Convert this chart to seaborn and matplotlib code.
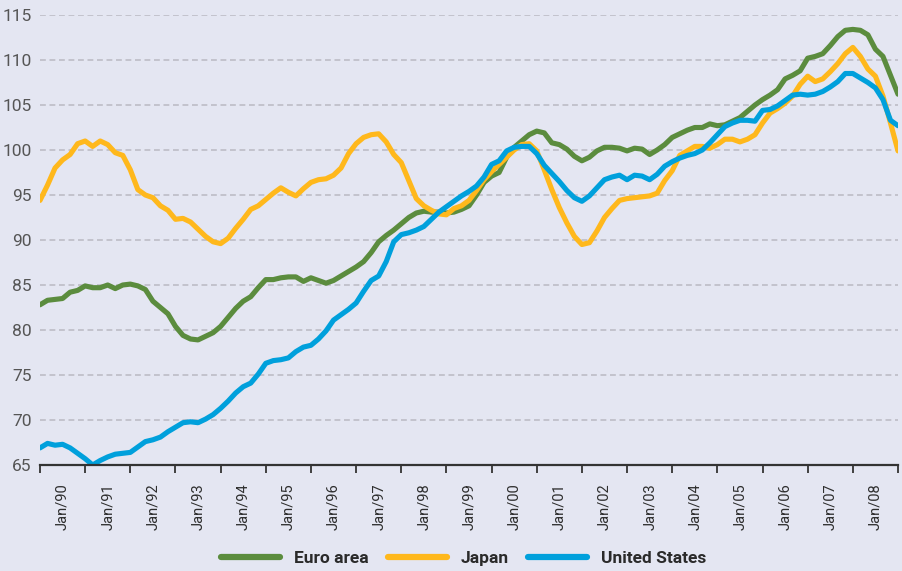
import matplotlib
matplotlib.use("Agg")
import matplotlib.pyplot as plt
import numpy as np
import pandas as pd
import seaborn as sns

# bi-monthly readings, Jan/90 .. Jan/09 (6 per year + final point)
dates = pd.date_range("1990-01-01", "2009-01-01", freq="2MS")

euro_area = [
    82.8, 83.3, 83.4, 83.5, 84.2, 84.4,   # 1990
    84.9, 84.7, 84.7, 85.0, 84.6, 85.0,   # 1991
    85.1, 84.9, 84.5, 83.2, 82.5, 81.8,   # 1992
    80.4, 79.4, 79.0, 78.9, 79.3, 79.7,   # 1993
    80.4, 81.4, 82.4, 83.2, 83.7, 84.7,   # 1994
    85.6, 85.6, 85.8, 85.9, 85.9, 85.4,   # 1995
    85.8, 85.5, 85.2, 85.5, 86.0, 86.5,   # 1996
    87.0, 87.6, 88.6, 89.8, 90.5, 91.1,   # 1997
    91.8, 92.5, 93.0, 93.2, 93.1, 93.1,   # 1998
    93.0, 93.1, 93.4, 93.8, 95.0, 96.4,   # 1999
    97.1, 97.5, 99.2, 100.3, 101.0, 101.7,  # 2000
    102.1, 101.9, 100.8, 100.6, 100.1, 99.3,  # 2001
    98.8, 99.2, 99.9, 100.3, 100.3, 100.2,  # 2002
    99.9, 100.2, 100.1, 99.5, 100.0, 100.6,  # 2003
    101.4, 101.8, 102.2, 102.5, 102.5, 102.9,  # 2004
    102.7, 102.8, 103.2, 103.6, 104.3, 105.0,  # 2005
    105.6, 106.1, 106.7, 107.9, 108.3, 108.8,  # 2006
    110.2, 110.4, 110.7, 111.6, 112.6, 113.3,  # 2007
    113.4, 113.3, 112.8, 111.2, 110.4, 108.3,  # 2008
    106.2,
]

japan = [
    94.4, 96.1, 98.0, 98.9, 99.5, 100.7,
    101.0, 100.4, 101.0, 100.6, 99.7, 99.4,
    97.8, 95.6, 95.0, 94.7, 93.8, 93.3,
    92.3, 92.4, 92.0, 91.2, 90.4, 89.8,
    89.6, 90.2, 91.3, 92.3, 93.4, 93.8,
    94.5, 95.2, 95.8, 95.3, 94.9, 95.7,
    96.4, 96.7, 96.8, 97.2, 98.0, 99.6,
    100.7, 101.4, 101.7, 101.8, 100.9, 99.5,
    98.6, 96.6, 94.6, 93.8, 93.3, 92.9,
    92.8, 93.5, 93.8, 94.4, 95.5, 96.7,
    97.6, 98.4, 99.2, 100.0, 100.6, 100.7,
    99.9, 97.8, 95.6, 93.6, 91.9, 90.4,
    89.5, 89.7, 91.0, 92.5, 93.5, 94.4,
    94.6, 94.7, 94.8, 94.9, 95.2, 96.6,
    97.7, 99.4, 99.9, 100.4, 100.4, 100.2,
    100.6, 101.2, 101.2, 100.9, 101.2, 101.7,
    103.0, 104.1, 104.6, 105.2, 106.0, 107.3,
    108.2, 107.6, 107.9, 108.7, 109.6, 110.7,
    111.4, 110.4, 109.0, 108.2, 106.0, 103.0,
    99.9,
]

united_states = [
    66.9, 67.4, 67.2, 67.3, 66.9, 66.3,
    65.7, 65.0, 65.5, 65.9, 66.2, 66.3,
    66.4, 67.0, 67.6, 67.8, 68.1, 68.7,
    69.2, 69.7, 69.8, 69.7, 70.1, 70.6,
    71.3, 72.1, 73.0, 73.7, 74.1, 75.1,
    76.3, 76.6, 76.7, 76.9, 77.6, 78.1,
    78.3, 79.0, 79.9, 81.1, 81.7, 82.3,
    83.0, 84.3, 85.5, 86.0, 87.6, 89.8,
    90.6, 90.8, 91.1, 91.5, 92.3, 93.1,
    93.7, 94.3, 94.9, 95.4, 96.0, 97.0,
    98.4, 98.8, 99.9, 100.3, 100.4, 100.4,
    99.6, 98.3, 97.4, 96.5, 95.5, 94.7,
    94.3, 94.9, 95.8, 96.7, 97.0, 97.2,
    96.7, 97.2, 97.1, 96.7, 97.3, 98.2,
    98.7, 99.1, 99.4, 99.6, 100.0, 100.8,
    101.7, 102.6, 103.0, 103.3, 103.3, 103.2,
    104.4, 104.5, 104.9, 105.5, 106.1, 106.2,
    106.1, 106.2, 106.5, 107.0, 107.6, 108.5,
    108.5, 108.0, 107.5, 106.9, 105.6, 103.3,
    102.7,
]

series_names = ["Euro area", "Japan", "United States"]
year_labels = ["Jan/%02d" % (y % 100) for y in range(1990, 2009)]

#-------------------------------------------------
# long table for seaborn
#-------------------------------------------------
month = (dates.year - 1990) * 12 + dates.month - 1
frames = []
for name, vals in zip(series_names, [euro_area, japan, united_states]):
    frames.append(pd.DataFrame({"month": month, "value": vals, "series": name}))
df = pd.concat(frames, ignore_index=True)

colors = {"Euro area": "#5b8c3e", "Japan": "#ffb81c", "United States": "#00a0dc"}
bg = "#e4e6f2"

sns.set_theme(style="white")
plt.rcParams["font.family"] = ["Roboto", "DejaVu Sans"]

fig = plt.figure(figsize=(9.02, 5.71), dpi=100, facecolor=bg)
ax = fig.add_axes([40 / 902, 106 / 571, 858 / 902, 450 / 571])
ax.set_facecolor(bg)

sns.lineplot(data=df, x="month", y="value", hue="series", hue_order=series_names,
             palette=colors, linewidth=3.7, ax=ax)
for ln in ax.get_lines():
    ln.set_solid_capstyle("round")
    ln.set_solid_joinstyle("round")

# axes ranges / grid
ax.set_xlim(0, 228)
ax.set_ylim(65, 115)
ax.set_yticks(np.arange(65, 116, 5))
ax.yaxis.grid(True, color="#bdbdc6", linestyle=(0, (3.5, 2.2)), linewidth=1.2)
ax.xaxis.grid(False)
ax.set_axisbelow(True)

# year boundaries as ticks, labels in the middle of each year
ax.set_xticks(np.arange(0, 229, 12))
ax.set_xticklabels([])
ax.set_xticks(np.arange(6, 228, 12), minor=True)
ax.set_xticklabels(year_labels, minor=True, rotation=90, fontsize=10.5,
                   color="#2e2e2e", va="top", ha="center")
ax.tick_params(axis="x", which="major", length=6, width=1.3, color="#333333",
               direction="out", bottom=True)
ax.tick_params(axis="x", which="minor", length=0, pad=13)
ax.tick_params(axis="y", length=0, pad=6, labelsize=12.5, labelcolor="#555555")

for side in ["top", "right", "left"]:
    ax.spines[side].set_visible(False)
ax.spines["bottom"].set_color("#333333")
ax.spines["bottom"].set_linewidth(1.6)

ax.set_xlabel("")
ax.set_ylabel("")

# legend at the bottom
handles, labels = ax.get_legend_handles_labels()
ax.get_legend().remove()
for h in handles:
    h.set_linewidth(4.5)
    h.set_solid_capstyle("round")
leg = fig.legend(handles, labels, loc="center", bbox_to_anchor=(0.514, 0.022),
                 ncol=3, frameon=False, handlelength=3.4, handletextpad=0.8,
                 columnspacing=1.1, prop={"weight": "bold", "size": 12.5})
for t in leg.get_texts():
    t.set_color("#2a2a2a")

plt.savefig("out.png", dpi=100, facecolor=bg)
